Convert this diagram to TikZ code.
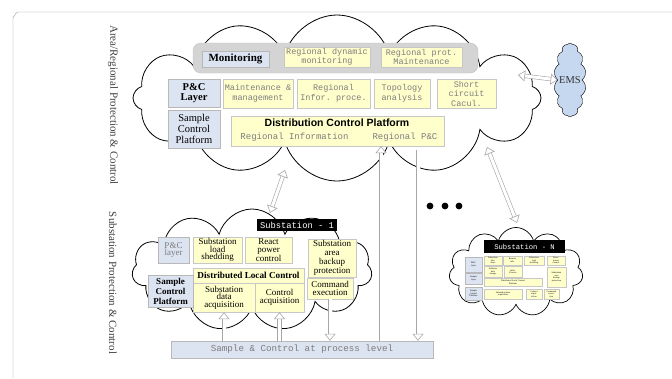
\documentclass[tikz,border=0pt]{standalone}
\usepackage{fontspec}
\setmainfont{Liberation Serif}
\setsansfont{Liberation Sans}
\setmonofont{Liberation Mono}
\usetikzlibrary{shapes.symbols,arrows.meta}

\definecolor{boxyellow}{RGB}{255,255,204}
\definecolor{boxblue}{RGB}{221,228,241}
\definecolor{emsblue}{RGB}{197,216,240}
\definecolor{bandgray}{RGB}{212,212,212}
\definecolor{txtgray}{RGB}{125,125,125}

\tikzset{
  ybox/.style={draw=black!22, fill=boxyellow, inner sep=0pt, align=center},
  bbox/.style={draw=black!28, fill=boxblue, inner sep=0pt, align=center},
  mono/.style={font=\ttfamily\fontsize{8.5}{9.5}\selectfont, text=txtgray},
  small/.style={font=\fontsize{9}{7.6}\selectfont},
  tiny/.style={font=\fontsize{2.3}{2.5}\selectfont},
  cloudy/.style={cloud, draw, line width=0.8pt, fill=white, cloud ignores aspect, inner sep=0pt},
  hollow/.style={draw=black!35, double=white, double distance=3pt, line width=0.6pt},
  harrow/.style={hollow, -{Triangle[length=7pt, width=11pt, fill=white]}},
  hdarrow/.style={hollow, {Triangle[length=7pt, width=11pt, fill=white]}-{Triangle[length=7pt, width=11pt, fill=white]}}
}

\begin{document}
\begin{tikzpicture}[x=1pt,y=-1pt]
\useasboundingbox (0,0) rectangle (672,378);
% frame and side titles
\draw[black!40] (13,378) -- (13,17) to[out=-90,in=180] (18,12) -- (672,12);
\node[rotate=-90, font=\fontsize{11}{12}\selectfont, text=black!75] (areaT) at (113,105) {Area/Regional Protection \& Control};
\node[rotate=-90, font=\fontsize{11}{12}\selectfont, text=black!75] (subT) at (113,283) {Substation Protection \& Control};

% area / regional level
\node[cloudy, cloud puffs=12, minimum width=408, minimum height=166] (area) at (337,98) {};
\node[draw=black!25, fill=bandgray, rounded corners=8pt, minimum width=285, minimum height=30] (band) at (335.5,58) {};
\node[bbox, minimum width=67, minimum height=16, font=\bfseries\fontsize{11}{12}\selectfont] (mon) at (235.5,59) {Monitoring};
\node[ybox, mono, minimum width=86, minimum height=20] (rdm) at (327,57) {Regional dynamic\\monitoring};
\node[ybox, mono, minimum width=81, minimum height=20] (rpm) at (421.5,57) {Regional prot.\\Maintenance};
\node[bbox, minimum width=52, minimum height=28, font=\bfseries\fontsize{10.5}{10}\selectfont] (pcl) at (194,93) {P\&C\\Layer};
\node[ybox, mono, minimum width=70, minimum height=29] (mm) at (258,93.5) {Maintenance \&\\management};
\node[ybox, mono, minimum width=73, minimum height=29] (rip) at (333.5,93.5) {Regional\\Infor. proce.};
\node[ybox, mono, minimum width=56, minimum height=29] (topo) at (402,93.5) {Topology\\analysis};
\node[ybox, mono, minimum width=59, minimum height=29] (scc) at (466.5,93.5) {Short\\circuit\\Cacul.};
\node[bbox, minimum width=52, minimum height=38, font=\fontsize{10.5}{11}\selectfont] (scp) at (194,129) {Sample\\Control\\Platform};
\node[ybox, minimum width=213, minimum height=30] (dcp) at (337.5,131) {};
\node[font=\sffamily\bfseries\fontsize{10.5}{12}\selectfont] (dcpT) at (337,123) {Distribution Control Platform};
\node[mono, font=\ttfamily\fontsize{9}{10}\selectfont] (dcpI) at (294.5,137.5) {Regional Information};
\node[mono, font=\ttfamily\fontsize{9}{10}\selectfont] (dcpP) at (405,137.5) {Regional P\&C};

% EMS
\node[cloud, draw, fill=emsblue, cloud puffs=14, cloud puff arc=110, cloud ignores aspect, minimum width=32, minimum height=74,
  label={[font=\fontsize{10.5}{12}\selectfont, text=black!80]center:EMS}] (ems) at (570,80) {};

% substation 1
\node[cloudy, cloud puffs=11, minimum width=240, minimum height=122] (sub1) at (252,270) {};
\node[fill=black, minimum width=80, minimum height=12, inner sep=0pt, text=white, font=\ttfamily\fontsize{8.8}{10}\selectfont] (s1t) at (297,225) {Substation - 1};
\node[bbox, small, text=txtgray, minimum width=31, minimum height=26] (s1pc) at (173.5,250) {P\&C\\layer};
\node[ybox, small, minimum width=49, minimum height=26] (s1ls) at (217.5,250) {Substation\\load\\shedding};
\node[ybox, small, minimum width=47, minimum height=26] (s1rp) at (268.5,250) {React\\power\\control};
\node[ybox, small, font=\fontsize{9}{9}\selectfont, minimum width=48, minimum height=38] (s1bp) at (332,258) {Substation\\area\\backup\\protection};
\node[ybox, minimum width=111, minimum height=15, font=\bfseries\fontsize{9.2}{10}\selectfont] (s1dl) at (248.5,275.5) {Distributed Local Control};
\node[ybox, small, minimum width=62, minimum height=29] (s1da) at (224,297.5) {Substation\\data\\acquisition};
\node[ybox, font=\fontsize{9}{8.5}\selectfont, minimum width=49, minimum height=29] (s1ca) at (279.5,297.5) {Control\\acquisition};
\node[bbox, minimum width=45, minimum height=32, font=\bfseries\fontsize{9}{10}\selectfont] (s1sc) at (170.5,291) {Sample\\Control\\Platform};
\node[ybox, font=\fontsize{9}{8}\selectfont, minimum width=46, minimum height=21] (s1ce) at (330,288.5) {Command\\execution};
\node[bbox, minimum width=262, minimum height=17, mono, font=\ttfamily\fontsize{9.2}{10}\selectfont] (proc) at (302,349.5) {Sample \& Control at process level};

% substation N
\node[cloudy, cloud puffs=11, line width=0.7pt, minimum width=134, minimum height=89] (subN) at (516,272) {};
\node[fill=black, minimum width=81, minimum height=13, inner sep=0pt, text=white, font=\ttfamily\fontsize{7.2}{8}\selectfont] (sNt) at (524.5,246.5) {Substation - N};
\node[bbox, tiny, minimum width=17, minimum height=15] (sNa) at (473.5,264.5) {P\&C\\layer};
\node[bbox, tiny, minimum width=17, minimum height=11] (sNb) at (473.5,278.5) {Sample\\layer};
\node[bbox, tiny, minimum width=17, minimum height=13] (sNc) at (473.5,293.5) {Sample\\Control\\Platform};
\node[ybox, tiny, minimum width=18, minimum height=9] (sN1) at (493,260.5) {Substation\\info.\\share};
\node[ybox, tiny, minimum width=19, minimum height=9] (sN2) at (512.5,260.5) {Remote\\info.};
\node[ybox, tiny, minimum width=20, minimum height=9] (sN3) at (534,260.5) {Substation\\load\\shedding};
\node[ybox, tiny, minimum width=18, minimum height=9] (sN4) at (556,260.5) {React\\power\\control};
\node[ybox, tiny, minimum width=18, minimum height=11] (sN5) at (493,271.5) {Software\\data\\storage};
\node[ybox, tiny, minimum width=18, minimum height=11] (sN6) at (513,271.5) {Infor.\\Process};
\node[ybox, tiny, minimum width=19, minimum height=20] (sN7) at (556.5,277) {Substation\\area\\backup\\protection};
\node[ybox, tiny, minimum width=58, minimum height=8] (sN8) at (513,282) {Distributed Local Control\\Platform};
\node[ybox, tiny, minimum width=38, minimum height=10] (sN9) at (503,294) {Substation data\\acquisition};
\node[ybox, tiny, minimum width=16, minimum height=10] (sN10) at (534,294) {Control\\acqui-\\sition};
\node[ybox, tiny, minimum width=15, minimum height=10] (sN11) at (551.5,294) {Command\\execu-\\tion};

% dots between substations
\foreach \x in {430,445,459}
  \fill (\x,206) circle (3.4);

% connectors
\coordinate (aEms) at (518,75);
\coordinate (aSub1) at (285,170);
\coordinate (s1Top) at (270,213);
\coordinate (aSubN) at (487,147);
\coordinate (sNTop) at (517,223);
\coordinate (upA) at (381,341);
\coordinate (dnA) at (418,150);
\draw[hdarrow] (aEms) -- (ems.west);
\draw[hdarrow] (aSub1) -- (s1Top);
\draw[hdarrow] (aSubN) -- (sNTop);
\draw[harrow] (upA) -- (upA |- dcp.south);
\draw[harrow] (dnA) -- (dnA |- proc.north);
\draw[harrow] (proc.north -| s1da) -- (s1da.south);
\draw[harrow] (proc.north -| s1ca) -- (s1ca.south);
\draw[harrow] (s1ce.south) -- (s1ce.south |- proc.north);
\end{tikzpicture}
\end{document}
